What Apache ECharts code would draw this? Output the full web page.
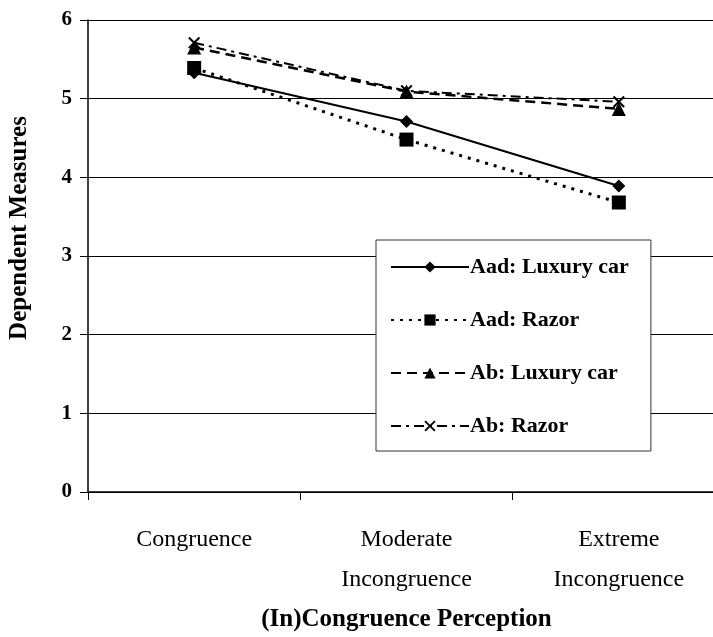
<!DOCTYPE html>
<html><head><meta charset="utf-8">
<script src="https://cdn.jsdelivr.net/npm/echarts@6/dist/echarts.min.js"></script>
<style>html,body{margin:0;padding:0;background:#fff}#c{width:713px;height:637px}</style>
</head><body><div id="c"></div>
<script>
const categories = ['Congruence', 'Moderate\nIncongruence', 'Extreme\nIncongruence'];
const aadLuxury = [5.33, 4.71, 3.89];
const aadRazor = [5.39, 4.48, 3.68];
const abLuxury = [5.65, 5.09, 4.87];
const abRazor = [5.71, 5.10, 4.96];
const yTicks = [0, 1, 2, 3, 4, 5, 6];

const serif = '"Liberation Serif","Times New Roman",serif';
const xPath = 'path://M0,1.2 L1.2,0 L5,3.8 L8.8,0 L10,1.2 L6.2,5 L10,8.8 L8.8,10 L5,6.2 L1.2,10 L0,8.8 L3.8,5 Z';

const chart = echarts.init(document.getElementById('c'));
const mk = (name, data, symbol, size, lineType, width) => ({
  name, type: 'line', data, symbol, symbolSize: size,
  itemStyle: { color: '#000' },
  lineStyle: { color: '#000', type: lineType, width },
  animation: false
});
chart.setOption({
  backgroundColor: '#fff',
  grid: { left: 88, right: -12, top: 20, bottom: 145, outerBoundsMode: 'none', containLabel: false },
  xAxis: {
    type: 'category', data: categories, boundaryGap: true,
    axisLine: { lineStyle: { color: '#000', width: 1.5 } },
    axisTick: { show: true, length: 8, lineStyle: { color: '#000' } },
    axisLabel: { color: '#000', fontFamily: serif, fontSize: 24, lineHeight: 40, margin: 28, interval: 0 },
    name: '(In)Congruence Perception', nameLocation: 'middle', nameGap: 115,
    nameTextStyle: { color: '#000', fontFamily: serif, fontSize: 25, fontWeight: 'bold' }
  },
  yAxis: {
    type: 'value', min: 0, max: 6, interval: 1,
    axisLine: { show: true, lineStyle: { color: '#000', width: 1.5 } },
    axisTick: { show: true, length: 8, lineStyle: { color: '#000' } },
    splitLine: { show: true, lineStyle: { color: '#000', width: 1 } },
    axisLabel: { color: '#000', fontFamily: serif, fontSize: 21, fontWeight: 'bold', margin: 16,
      formatter: v => yTicks.includes(v) ? String(v) : '' },
    name: 'Dependent Measures', nameLocation: 'middle', nameGap: 56,
    nameTextStyle: { color: '#000', fontFamily: serif, fontSize: 25, fontWeight: 'bold', padding: [0, 0, 0, 56] }
  },
  legend: {
    orient: 'vertical', left: 376, top: 240,
    width: 273,
    backgroundColor: '#fff', borderColor: '#333', borderWidth: 1,
    padding: [16, 22, 14, 14],
    itemWidth: 78, itemHeight: 14, itemGap: 31,
    textStyle: { color: '#000', fontFamily: serif, fontSize: 22, fontWeight: 'bold', padding: [0, 0, 0, -4] },
    data: ['Aad: Luxury car', 'Aad: Razor', 'Ab: Luxury car', 'Ab: Razor']
  },
  series: [
    mk('Aad: Luxury car', aadLuxury, 'diamond', 13, 'solid', 2),
    mk('Aad: Razor', aadRazor, 'rect', 14, [3, 6], 3),
    mk('Ab: Luxury car', abLuxury, 'triangle', 14, [10, 6], 2.5),
    mk('Ab: Razor', abRazor, xPath, 12, [10, 5, 3, 5], 2)
  ]
});
</script></body></html>
